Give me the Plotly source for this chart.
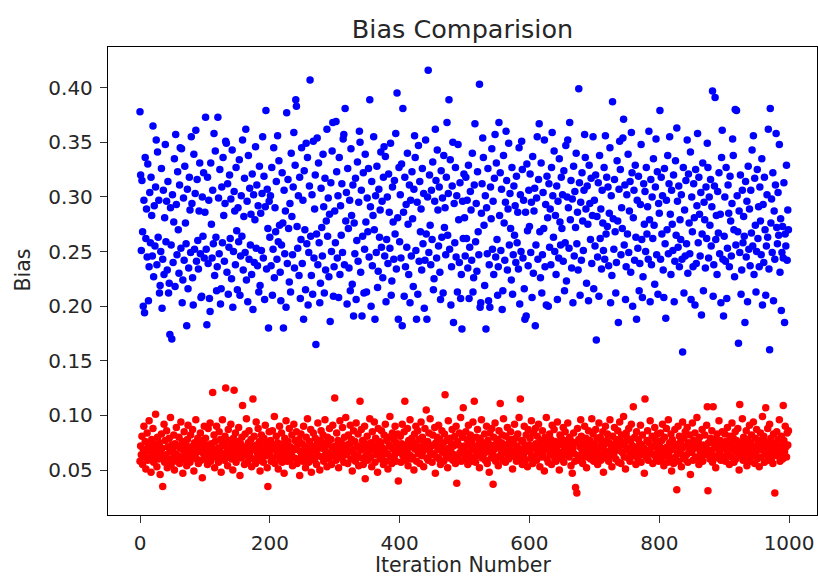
import plotly.graph_objects as go

# Bias values per iteration, in thousandths, 100 iterations per list
blue_000 = [378, 320, 251, 315, 268, 200, 297, 194, 336, 262,
            289, 245, 330, 205, 236, 304, 258, 318, 283, 246,
            365, 227, 292, 255, 309, 352, 238, 341, 263, 297,
            212, 219, 250, 326, 198, 243, 306, 229, 281, 348,
            259, 296, 233, 314, 212, 221, 174, 290, 256, 170,
            302, 240, 277, 335, 218, 357, 293, 247, 323, 270,
            230, 311, 345, 253, 344, 203, 224, 299, 242, 328,
            276, 257, 182, 307, 216, 235, 318, 288, 249, 355,
            294, 226, 201, 339, 252, 303, 361, 241, 316, 260,
            234, 287, 331, 248, 208, 209, 300, 264, 322, 244]
blue_100 = [286, 373, 252, 183, 318, 239, 297, 207, 195, 331,
            275, 244, 306, 257, 358, 228, 342, 263, 214, 236,
            373, 299, 248, 325, 202, 216, 309, 258, 336, 283,
            241, 294, 351, 349, 231, 312, 211, 254, 320, 262,
            298, 225, 343, 199, 250, 305, 287, 238, 327, 269,
            215, 290, 259, 334, 210, 246, 301, 264, 352, 233,
            282, 317, 249, 362, 224, 296, 204, 338, 243, 308,
            256, 284, 229, 321, 197, 302, 240, 279, 346, 253,
            311, 237, 292, 213, 328, 219, 285, 251, 303, 355,
            244, 319, 206, 291, 379, 234, 307, 271, 180, 296]
blue_200 = [263, 301, 237, 327, 210, 252, 345, 226, 290, 268,
            314, 243, 356, 259, 333, 274, 231, 205, 256, 322,
            276, 180, 306, 248, 287, 199, 377, 239, 316, 271,
            222, 294, 213, 340, 282, 247, 309, 359, 235, 329,
            389, 383, 273, 253, 301, 228, 318, 207, 261, 345,
            239, 297, 188, 324, 270, 215, 349, 257, 336, 201,
            249, 310, 407, 264, 228, 302, 211, 351, 244, 289,
            320, 165, 266, 354, 238, 331, 258, 203, 221, 308,
            272, 246, 339, 291, 212, 317, 233, 278, 362, 264,
            299, 227, 284, 186, 313, 250, 342, 368, 209, 236]
blue_300 = [287, 258, 369, 323, 244, 301, 208, 336, 229, 292,
            265, 312, 249, 353, 357, 238, 381, 278, 304, 202,
            326, 271, 235, 297, 214, 344, 283, 220, 311, 191,
            276, 248, 317, 206, 260, 332, 241, 295, 360, 350,
            231, 306, 191, 264, 322, 212, 252, 339, 277, 213,
            299, 268, 326, 245, 389, 291, 200, 314, 237, 283,
            355, 270, 188, 301, 249, 328, 217, 232, 307, 263,
            288, 341, 254, 296, 226, 318, 346, 246, 337, 204,
            261, 300, 239, 321, 286, 253, 349, 210, 223, 309,
            277, 243, 315, 266, 358, 234, 395, 281, 188, 327]
blue_400 = [259, 302, 244, 330, 182, 381, 286, 209, 318, 236,
            293, 254, 340, 275, 229, 311, 203, 297, 246, 323,
            280, 218, 307, 356, 336, 251, 188, 295, 211, 347,
            241, 314, 268, 289, 233, 326, 257, 303, 198, 242,
            352, 266, 188, 300, 416, 249, 320, 274, 238, 306,
            261, 332, 215, 225, 296, 362, 315, 244, 343, 288,
            255, 309, 231, 206, 324, 263, 299, 212, 338, 272,
            290, 247, 318, 368, 265, 303, 389, 252, 334, 201,
            236, 310, 350, 185, 294, 258, 327, 245, 301, 213,
            348, 279, 240, 313, 207, 229, 179, 296, 262, 321]
blue_500 = [281, 246, 318, 262, 297, 235, 329, 207, 254, 305,
            288, 242, 340, 213, 226, 311, 367, 259, 294, 232,
            323, 268, 247, 403, 199, 203, 285, 312, 354, 336,
            274, 219, 301, 179, 290, 248, 326, 205, 238, 199,
            309, 280, 344, 252, 296, 229, 317, 357, 245, 331,
            261, 210, 236, 368, 283, 322, 251, 307, 197, 214,
            338, 276, 242, 295, 360, 315, 233, 289, 349, 256,
            303, 271, 224, 327, 211, 247, 310, 265, 292, 240,
            319, 258, 286, 234, 345, 202, 302, 250, 351, 325,
            244, 297, 216, 188, 286, 191, 330, 269, 237, 306]
blue_600 = [273, 321, 249, 295, 208, 337, 230, 287, 308, 182,
            256, 299, 355, 243, 316, 367, 268, 226, 331, 212,
            247, 304, 271, 352, 236, 293, 201, 319, 281, 200,
            312, 254, 289, 238, 327, 359, 301, 263, 342, 250,
            283, 229, 310, 206, 296, 244, 335, 277, 256, 318,
            271, 302, 241, 324, 214, 258, 347, 223, 300, 352,
            290, 253, 368, 279, 315, 235, 298, 203, 328, 246,
            305, 272, 340, 257, 286, 233, 399, 313, 210, 295,
            242, 322, 278, 251, 306, 357, 336, 289, 221, 310,
            275, 205, 329, 294, 261, 317, 239, 283, 355, 216]
blue_700 = [297, 255, 320, 169, 282, 245, 313, 209, 338, 262,
            289, 234, 306, 276, 251, 327, 243, 356, 266, 318,
            273, 309, 237, 285, 345, 203, 301, 228, 387, 280,
            252, 316, 268, 212, 240, 333, 278, 185, 307, 351,
            325, 247, 290, 271, 354, 371, 256, 311, 206, 236,
            302, 266, 339, 249, 287, 314, 231, 359, 322, 200,
            281, 306, 242, 329, 263, 188, 297, 253, 319, 214,
            239, 293, 348, 261, 208, 227, 312, 275, 305, 250,
            327, 266, 291, 243, 360, 279, 204, 316, 238, 300,
            262, 335, 274, 220, 309, 353, 247, 323, 211, 294]
blue_800 = [285, 379, 243, 318, 266, 301, 233, 208, 326, 257,
            189, 297, 270, 338, 248, 312, 355, 284, 229, 306,
            275, 251, 320, 204, 241, 333, 265, 363, 296, 254,
            310, 236, 279, 261, 302, 243, 158, 327, 212, 288,
            246, 315, 257, 352, 230, 321, 276, 248, 341, 206,
            300, 268, 236, 312, 281, 201, 325, 239, 292, 358,
            258, 318, 284, 246, 304, 192, 266, 331, 214, 295,
            279, 235, 309, 262, 349, 327, 244, 300, 274, 316,
            255, 291, 397, 209, 238, 310, 391, 261, 283, 229,
            305, 267, 322, 248, 284, 203, 336, 361, 243, 191]
blue_900 = [264, 300, 241, 327, 207, 253, 311, 285, 236, 319,
            278, 246, 294, 353, 338, 270, 227, 380, 256, 379,
            301, 268, 166, 287, 249, 320, 211, 233, 306, 258,
            282, 264, 185, 314, 245, 296, 204, 328, 252, 289,
            237, 306, 267, 343, 255, 356, 229, 317, 274, 213,
            250, 325, 262, 291, 236, 309, 278, 247, 335, 201,
            293, 240, 318, 270, 210, 255, 302, 263, 362, 234,
            160, 381, 276, 298, 249, 322, 205, 287, 243, 311,
            358, 272, 257, 304, 265, 348, 231, 280, 196, 249,
            273, 244, 313, 185, 266, 255, 329, 242, 288, 270]

red_000 = [58, 72, 64, 81, 55, 69, 90, 62, 76, 51,
           67, 84, 59, 73, 95, 61, 70, 48, 78, 66,
           88, 57, 74, 63, 101, 68, 53, 80, 71, 60,
           75, 46, 65, 83, 70, 35, 62, 92, 57, 77,
           64, 86, 52, 71, 60, 79, 67, 98, 55, 73,
           69, 61, 82, 50, 74, 65, 89, 58, 72, 63,
           80, 56, 70, 94, 62, 76, 47, 68, 85, 59,
           73, 66, 54, 78, 91, 63, 71, 57, 82, 68,
           61, 87, 72, 49, 75, 64, 96, 60, 70, 79,
           56, 74, 67, 84, 59, 71, 43, 77, 65, 90]
red_100 = [68, 79, 60, 73, 55, 88, 66, 71, 93, 58,
           74, 63, 121, 69, 82, 52, 76, 64, 90, 61,
           70, 57, 85, 67, 78, 48, 72, 96, 62, 75,
           59, 81, 125, 66, 71, 54, 87, 63, 77, 68,
           92, 60, 73, 50, 79, 123, 65, 84, 57, 70,
           76, 62, 89, 68, 45, 74, 61, 80, 109, 66,
           71, 55, 83, 64, 97, 69, 58, 75, 86, 63,
           67, 78, 53, 72, 115, 60, 81, 70, 56, 94,
           73, 65, 88, 59, 76, 49, 68, 82, 62, 71,
           57, 79, 66, 91, 63, 74, 52, 35, 69, 85]
red_200 = [64, 77, 58, 70, 86, 61, 73, 99, 56, 68,
           81, 63, 75, 51, 69, 90, 60, 72, 84, 57,
           66, 74, 47, 79, 62, 95, 70, 58, 76, 65,
           88, 59, 71, 64, 82, 54, 68, 92, 61, 77,
           69, 85, 56, 73, 60, 78, 45, 67, 83, 63,
           74, 58, 90, 66, 71, 52, 80, 62, 97, 70,
           57, 76, 65, 87, 48, 72, 61, 84, 68, 59,
           79, 67, 55, 74, 93, 63, 70, 50, 77, 86,
           62, 71, 82, 58, 69, 96, 64, 75, 53, 80,
           73, 60, 88, 66, 78, 55, 71, 91, 63, 68]
red_300 = [116, 72, 59, 84, 66, 77, 52, 70, 95, 63,
           75, 61, 89, 68, 57, 80, 71, 98, 64, 73,
           56, 82, 67, 74, 91, 60, 78, 49, 69, 86,
           65, 76, 58, 93, 71, 63, 83, 54, 72, 113,
           68, 87, 61, 77, 55, 70, 90, 42, 74, 64,
           81, 59, 72, 66, 97, 62, 75, 53, 85, 69,
           71, 94, 57, 79, 64, 73, 48, 88, 67, 76,
           60, 74, 86, 63, 70, 55, 82, 68, 92, 58,
           77, 65, 51, 80, 73, 99, 62, 71, 56, 84,
           69, 78, 63, 90, 58, 75, 67, 83, 40, 72]
red_400 = [66, 81, 57, 74, 92, 63, 70, 85, 113, 59,
           73, 68, 88, 54, 77, 64, 96, 71, 60, 79,
           62, 75, 50, 83, 69, 90, 58, 72, 86, 65,
           78, 56, 71, 94, 63, 80, 67, 53, 74, 88,
           70, 105, 61, 76, 59, 84, 68, 97, 64, 72,
           57, 82, 73, 65, 89, 47, 75, 62, 80, 69,
           91, 60, 78, 55, 71, 86, 66, 74, 58, 83,
           119, 68, 63, 77, 52, 95, 70, 61, 79, 67,
           74, 87, 59, 72, 64, 81, 56, 90, 38, 76,
           62, 73, 84, 66, 98, 58, 71, 80, 107, 65]
red_500 = [72, 60, 85, 67, 78, 55, 91, 64, 73, 82,
           58, 76, 69, 94, 62, 113, 71, 57, 80, 66,
           87, 63, 74, 52, 79, 68, 96, 61, 75, 70,
           65, 83, 59, 72, 90, 56, 77, 67, 48, 84,
           73, 61, 88, 66, 37, 80, 69, 93, 58, 74,
           62, 78, 54, 86, 70, 111, 64, 75, 82, 59,
           97, 68, 73, 57, 81, 65, 89, 71, 60, 76,
           70, 85, 63, 78, 51, 74, 67, 92, 62, 79,
           58, 72, 83, 66, 98, 60, 115, 69, 77, 55,
           76, 64, 90, 71, 59, 82, 68, 53, 87, 73]
red_600 = [67, 79, 61, 95, 72, 56, 84, 70, 63, 88,
           74, 59, 81, 66, 92, 68, 53, 77, 71, 62,
           86, 65, 73, 49, 80, 69, 98, 60, 75, 57,
           70, 83, 64, 78, 55, 91, 67, 72, 87, 61,
           76, 58, 69, 94, 63, 74, 50, 82, 66, 79,
           60, 73, 89, 57, 71, 85, 64, 77, 68, 93,
           72, 62, 80, 67, 54, 76, 47, 70, 84, 65,
           58, 34, 75, 29, 88, 63, 78, 59, 71, 96,
           81, 68, 56, 74, 65, 90, 62, 79, 52, 73,
           69, 86, 63, 77, 60, 72, 97, 66, 83, 58]
red_700 = [74, 62, 87, 68, 79, 55, 71, 93, 64, 80,
           59, 76, 70, 85, 48, 73, 66, 90, 61, 77,
           83, 67, 58, 75, 96, 63, 72, 53, 81, 69,
           65, 89, 74, 60, 78, 71, 86, 57, 68, 94,
           77, 56, 82, 66, 73, 99, 62, 75, 51, 84,
           70, 79, 61, 88, 67, 58, 76, 92, 64, 72,
           108, 63, 80, 69, 55, 85, 71, 60, 78, 66,
           74, 91, 57, 73, 82, 64, 70, 47, 115, 68,
           62, 77, 86, 59, 75, 68, 95, 65, 72, 81,
           56, 71, 64, 89, 78, 61, 74, 83, 69, 58]
red_800 = [73, 65, 84, 59, 77, 92, 68, 54, 80, 70,
           63, 88, 71, 57, 96, 66, 75, 61, 83, 49,
           78, 69, 56, 74, 87, 62, 72, 32, 65, 90,
           58, 81, 67, 76, 53, 70, 94, 63, 79, 60,
           85, 72, 64, 89, 57, 75, 68, 82, 46, 71,
           66, 93, 59, 77, 70, 84, 62, 74, 98, 61,
           76, 55, 80, 67, 72, 63, 87, 58, 73, 69,
           82, 64, 71, 91, 108, 31, 75, 66, 60, 79,
           68, 86, 57, 108, 74, 63, 78, 52, 70, 83,
           61, 73, 95, 65, 77, 59, 69, 85, 62, 74]
red_900 = [70, 83, 58, 76, 64, 89, 67, 72, 55, 81,
           74, 62, 93, 68, 79, 57, 71, 85, 60, 77,
           66, 88, 72, 50, 110, 63, 75, 69, 97, 59,
           80, 67, 73, 61, 86, 54, 78, 70, 64, 91,
           58, 75, 82, 68, 63, 94, 71, 56, 79, 65,
           87, 60, 74, 69, 53, 77, 84, 62, 72, 99,
           68, 81, 57, 76, 107, 64, 73, 88, 59, 70,
           92, 66, 79, 61, 75, 56, 83, 71, 29, 67,
           74, 85, 63, 78, 69, 96, 58, 72, 81, 65,
           60, 109, 77, 67, 90, 71, 62, 84, 73, 86]

x_ticks = [0, 200, 400, 600, 800, 1000]
y_ticks = [0.05, 0.10, 0.15, 0.20, 0.25, 0.30, 0.35, 0.40]
y_tick_text = ["0.05", "0.10", "0.15", "0.20", "0.25", "0.30", "0.35", "0.40"]

blue_all = (blue_000 + blue_100 + blue_200 + blue_300 + blue_400 +
            blue_500 + blue_600 + blue_700 + blue_800 + blue_900)
red_all = (red_000 + red_100 + red_200 + red_300 + red_400 +
           red_500 + red_600 + red_700 + red_800 + red_900)
bias_blue = [v / 1000 for v in blue_all]
bias_red = [v / 1000 for v in red_all]
iterations = list(range(len(bias_blue)))

FONT = "DejaVu Sans"
TXT = "#262626"

fig = go.Figure()
fig.add_trace(go.Scatter(x=iterations, y=bias_blue, mode="markers",
                         marker=dict(color="#0000ff", size=7.5, line=dict(width=0)),
                         showlegend=False))
fig.add_trace(go.Scatter(x=iterations, y=bias_red, mode="markers",
                         marker=dict(color="#ff0000", size=7.5, line=dict(width=0)),
                         showlegend=False))

axis_common = dict(showgrid=False, zeroline=False, showline=True, linecolor="black",
                   linewidth=1.3, mirror=True, ticks="outside", ticklen=7,
                   tickwidth=1.3, tickcolor="#333333",
                   tickfont=dict(family=FONT, size=20, color=TXT))

fig.update_layout(
    width=818, height=579, autosize=False,
    margin=dict(l=108, r=1, t=47, b=64),
    paper_bgcolor="white", plot_bgcolor="white",
    title=dict(text="Bias Comparision", x=(108 + 817) / 2 / 818, xanchor="center",
               xref="container", yref="container", y=1 - 29 / 579, yanchor="middle",
               font=dict(family=FONT, size=25.5, color=TXT)),
    xaxis=dict(range=[-49.3, 1043], tickvals=x_ticks, ticklabelstandoff=3, **axis_common),
    yaxis=dict(range=[0.00883, 0.4372], tickvals=y_ticks, ticktext=y_tick_text,
               ticklabelstandoff=3, **axis_common),
    annotations=[
        dict(text="Bias", xref="paper", yref="paper", x=(22.5 - 108) / 709,
             y=(515 - 270) / 468, textangle=-90, showarrow=False,
             xanchor="center", yanchor="middle",
             font=dict(family=FONT, size=20.5, color=TXT)),
        dict(text="Iteration Number", xref="paper", yref="paper", x=0.5,
             y=(515 - 565) / 468, showarrow=False, xanchor="center", yanchor="middle",
             font=dict(family=FONT, size=20.5, color=TXT)),
    ],
)

fig.write_html("out.html")
